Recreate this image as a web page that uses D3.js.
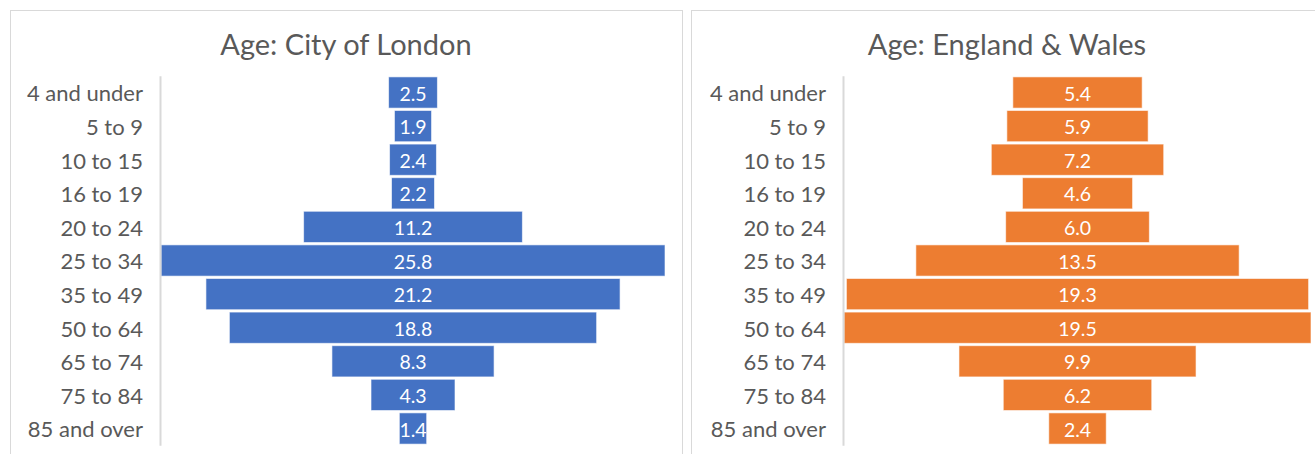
<!DOCTYPE html>
<meta charset="utf-8">
<script src="https://d3js.org/d3.v7.min.js"></script>
<style>
  body { margin: 0; background: #fff; }
  svg { display: block; font-family: Lato, "Open Sans", sans-serif; }
</style>
<div id="chart"></div>
<script>
// data (% of population)
var ageBands = ["4 and under", "5 to 9", "10 to 15", "16 to 19", "20 to 24", "25 to 34",
                "35 to 49", "50 to 64", "65 to 74", "75 to 84", "85 and over"];
var londonValues = [2.5, 1.9, 2.4, 2.2, 11.2, 25.8, 21.2, 18.8, 8.3, 4.3, 1.4];
var englandWalesValues = [5.4, 5.9, 7.2, 4.6, 6.0, 13.5, 19.3, 19.5, 9.9, 6.2, 2.4];
var panelTitles = ["Age: City of London", "Age: England & Wales"];

var W = 1315, H = 454;
var svg = d3.select("#chart").append("svg")
    .attr("width", W)
    .attr("height", H);

// panel layout (pixels)
var panels = [
  { title: panelTitles[0], values: londonValues, color: "#4472C4",
    box: [10, 10, 682, 470], axisX: 160, right: 665, titleX: 346 },
  { title: panelTitles[1], values: englandWalesValues, color: "#ED7D31",
    box: [691, 10, 1330, 470], axisX: 843, right: 1311, titleX: 1007 }
];

var y = d3.scaleBand()
    .domain(ageBands)
    .range([75.7, 445.3])
    .paddingInner(0.07)
    .paddingOuter(0.035);

panels.forEach(function(p) {
  var g = svg.append("g");

  // chart frame
  g.append("rect")
    .attr("x", p.box[0] + 0.5)
    .attr("y", p.box[1] + 0.5)
    .attr("width", p.box[2] - p.box[0])
    .attr("height", p.box[3] - p.box[1])
    .attr("fill", "#fff")
    .attr("stroke", "#d9d9d9")
    .attr("stroke-width", 1);

  g.append("text")
    .attr("x", p.titleX)
    .attr("y", 55)
    .attr("text-anchor", "middle")
    .attr("fill", "#595959")
    .style("font-size", "29px")
    .text(p.title);

  // symmetric scale: bars are centred, half each side
  var half = d3.max(p.values) / 2;
  var x = d3.scaleLinear()
    .domain([-half, half])
    .range([p.axisX + 1, p.right]);

  g.append("g")
    .selectAll("rect")
    .data(p.values)
    .join("rect")
      .attr("x", function(d) { return x(-d / 2); })
      .attr("y", function(d, i) { return y(ageBands[i]); })
      .attr("width", function(d) { return x(d / 2) - x(-d / 2); })
      .attr("height", y.bandwidth())
      .attr("fill", p.color)
      .attr("stroke", "#fff")
      .attr("stroke-opacity", 0.6)
      .attr("stroke-width", 1);

  g.append("g")
    .selectAll("text")
    .data(p.values)
    .join("text")
      .attr("x", x(0))
      .attr("y", function(d, i) { return y(ageBands[i]) + y.bandwidth() / 2; })
      .attr("dy", "0.42em")
      .attr("text-anchor", "middle")
      .attr("fill", "#fff")
      .style("font-size", "19.5px")
      .text(function(d) { return d.toFixed(1); });

  // category axis
  var axis = g.append("g")
    .attr("transform", "translate(" + p.axisX + ",0)")
    .call(d3.axisLeft(y).tickSize(0).tickPadding(17));
  axis.select(".domain")
    .attr("stroke", "#d9d9d9")
    .attr("stroke-width", 2);
  axis.selectAll("text")
    .attr("dy", "0.4em")
    .attr("fill", "#595959")
    .style("font-size", "22px")
    .style("font-family", "Lato, 'Open Sans', sans-serif");
});
</script>
